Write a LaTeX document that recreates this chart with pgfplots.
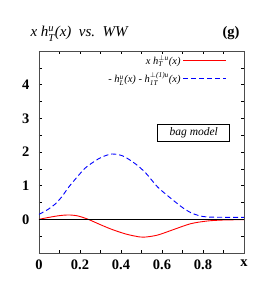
\documentclass[border=0pt]{standalone}
\usepackage{amsmath}
\usepackage{pgfplots}
\pgfplotsset{compat=1.18}
\usepackage{fontspec}
\setmainfont{Liberation Serif}
\begin{document}
\begin{tikzpicture}[x=1pt,y=1pt]
\path[use as bounding box] (-39,-33) rectangle (234,253);
\begin{axis}[
  at={(0,0)}, anchor=south west,
  scale only axis, width=205pt, height=202pt,
  xmin=0, xmax=1, ymin=-1, ymax=5,
  xtick={0,0.1,...,1.01},
  xticklabels={0,,0.2,,0.4,,0.6,,0.8,,x},
  ytick={-1,-0.5,...,5.01},
  yticklabels={,,0,,1,,2,,3,,4,,},
  tick align=inside, major tick length=3pt,
  tick style={black, line width=0.6pt},
  axis line style={black!70, line width=0.9pt},
  ticklabel style={font=\fontsize{14.5}{16}\selectfont\bfseries},
  /pgf/number format/assume math mode=true,
  xticklabel style={yshift=-3pt},
  yticklabel style={xshift=-6pt},
  legend style={at={(0.93,1.0)}, anchor=north east, draw=none, fill=none,
    font=\fontsize{10.5}{12}\selectfont\itshape, row sep=3pt,
    legend cell align=right},
  legend plot pos=right,
  legend image code/.code={\draw[#1, line width=1.2pt] plot coordinates {(0cm,0cm) (0.75cm,0cm) (1.5cm,0cm)};},
  clip=false,
]
\addplot[color=red, line width=0.9pt, smooth] coordinates {
(0,0) (0.05,0.06) (0.1,0.11) (0.144,0.13) (0.19,0.1) (0.24,0.0) (0.3,-0.16)
(0.356,-0.3) (0.42,-0.43) (0.47,-0.5) (0.51,-0.53) (0.577,-0.47) (0.658,-0.3)
(0.74,-0.13) (0.82,-0.05) (0.9,-0.02) (1,-0.01)};
\addlegendentry{x h$_{\text{T}}^{\perp\text{u}}$(x)}
\addplot[color=blue, line width=0.9pt, dash pattern=on 5pt off 3pt, smooth] coordinates {
(0,0.15) (0.04,0.28) (0.078,0.45) (0.11,0.66) (0.144,0.95) (0.185,1.25) (0.225,1.52)
(0.27,1.72) (0.307,1.85) (0.356,1.94) (0.41,1.88) (0.47,1.65) (0.52,1.38)
(0.577,0.97) (0.62,0.74) (0.658,0.55) (0.7,0.35) (0.74,0.2) (0.78,0.11) (0.82,0.07)
(0.9,0.06) (1,0.06)};
\addlegendentry{- h$_{\text{L}}^{\text{u}}$(x) - h$_{\text{1T}}^{\perp\text{(1)u}}$(x)}
\draw[black, line width=0.8pt] (axis cs:0,0) -- (axis cs:1,0);
\node[draw, line width=0.8pt, fill=white, font=\fontsize{11.5}{12}\selectfont\itshape,
  inner sep=2.5pt, minimum width=72pt, minimum height=17pt]
  at (axis cs:0.755,2.56) {bag model};
\end{axis}
\node[anchor=base west, font=\fontsize{15}{16}\selectfont\itshape] at (-12,216)
  {x h$_{\text{T}}^{\text{u}}$(x)\ \ vs.\ \ WW};
\node[anchor=base east, font=\fontsize{14.5}{16}\selectfont\bfseries] at (204,216) {(g)};
\end{tikzpicture}
\end{document}
